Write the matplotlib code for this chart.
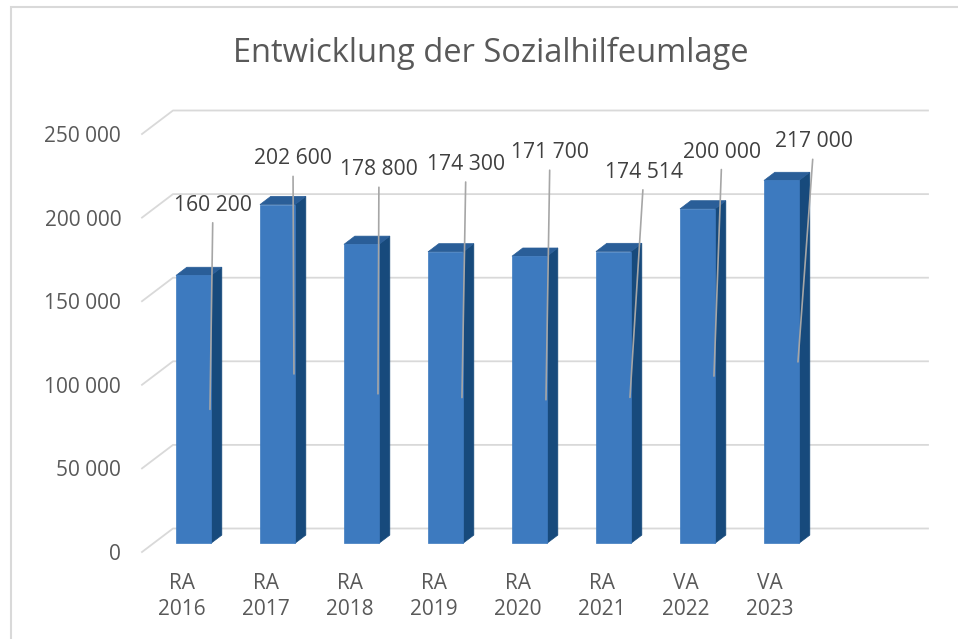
import matplotlib
matplotlib.use('Agg')
import matplotlib.pyplot as plt
from matplotlib.patches import Polygon, Rectangle
from matplotlib.lines import Line2D
from matplotlib.transforms import IdentityTransform

# ---------------- data ----------------
categories = ['RA\n2016', 'RA\n2017', 'RA\n2018', 'RA\n2019', 'RA\n2020', 'RA\n2021', 'VA\n2022', 'VA\n2023']
values = [160200, 202600, 178800, 174300, 171700, 174514, 200000, 217000]
y_ticks = [0, 50000, 100000, 150000, 200000, 250000]
title = 'Entwicklung der Sozialhilfeumlage'

# label offsets (pixels) of each data label from its leader-line anchor
label_offsets = [(3, 204), (-1, 215), (1, 224), (4, 233), (4, 247), (14, 225), (8, 224), (16, 220)]


def fmt(v):
    return f"{v:,}".replace(',', ' ')


plt.rcParams['font.family'] = ['Open Sans', 'DejaVu Sans']

W, H = 958, 639
fig = plt.figure(figsize=(W / 100, H / 100), dpi=100)
fig.patch.set_facecolor('white')

TXT = '#595959'
GRID = '#D9D9D9'
FRONT = '#3D7ABF'
SIDE = '#174A7C'
TOP = '#2A5E98'

ax = fig.add_axes([142 / W, 1 - 552 / H, (897 - 142) / W, (552 - 134) / H])
xmin, xmax = -40 / 84, 715 / 84
ax.set_xlim(xmin, xmax)
ax.set_ylim(0, 250000)
ax.patch.set_visible(False)
for s in ax.spines.values():
    s.set_visible(False)
ax.set_xticks(range(len(categories)), categories)
ax.set_yticks(y_ticks, [fmt(v) for v in y_ticks])
ax.tick_params(length=0, colors=TXT, labelsize=15)
ax.tick_params(axis='y', pad=15)
ax.tick_params(axis='x', pad=15)
for lbl in ax.get_xticklabels():
    lbl.set_linespacing(1.3)
for lbl in ax.get_yticklabels():
    lbl.set_y(lbl.get_position()[1])

DX, DY = 31.0, 23.5  # pixel offset for full depth


def disp(x, v, d):
    p = ax.transData.transform((x, v))
    return (p[0] + DX * d, p[1] + DY * d)


ident = IdentityTransform()

# back-wall gridlines with left-side diagonals
for v in y_ticks:
    p0 = disp(xmin, v, 0)
    p1 = disp(xmin, v, 1)
    p2 = disp(xmax, v, 1)
    ax.add_line(Line2D([p0[0], p1[0], p2[0]], [p0[1], p1[1], p2[1]],
                       transform=ident, color=GRID, lw=1.3, clip_on=False, zorder=1))

# 3D bars
hw = 17.5 / 84
df, db = 0.37, 0.72
for i, v in enumerate(values):
    x0, x1 = i - hw, i + hw
    front = [disp(x0, 0, df), disp(x1, 0, df), disp(x1, v, df), disp(x0, v, df)]
    side = [disp(x1, 0, df), disp(x1, 0, db), disp(x1, v, db), disp(x1, v, df)]
    top = [disp(x0, v, df), disp(x1, v, df), disp(x1, v, db), disp(x0, v, db)]
    for poly, col in ((side, SIDE), (top, TOP), (front, FRONT)):
        ax.add_patch(Polygon(poly, closed=True, transform=ident, facecolor=col,
                             edgecolor=col, lw=0.5, clip_on=False, zorder=2))

# data labels with leader lines
for i, v in enumerate(values):
    anchor = disp(i + hw, v / 2, df)
    anchor = (anchor[0] - 1, anchor[1])
    ax.annotate(fmt(v), xy=anchor, xycoords='figure pixels',
                xytext=label_offsets[i], textcoords='offset pixels',
                ha='center', va='center', fontsize=15.2, color='#404040',
                arrowprops=dict(arrowstyle='-', color='#A6A6A6', lw=1.2,
                                shrinkA=3, shrinkB=0),
                zorder=4)

# title
fig.text(491 / W, 1 - 53 / H, title, ha='center', va='center', fontsize=23.5, color=TXT)

# chart border (cropped)
fig.add_artist(Rectangle((11, -10), 980, 639 - 7 + 10, transform=ident,
                         fill=False, edgecolor='#D9D9D9', lw=1.5))

fig.savefig('out.png', dpi=100)
